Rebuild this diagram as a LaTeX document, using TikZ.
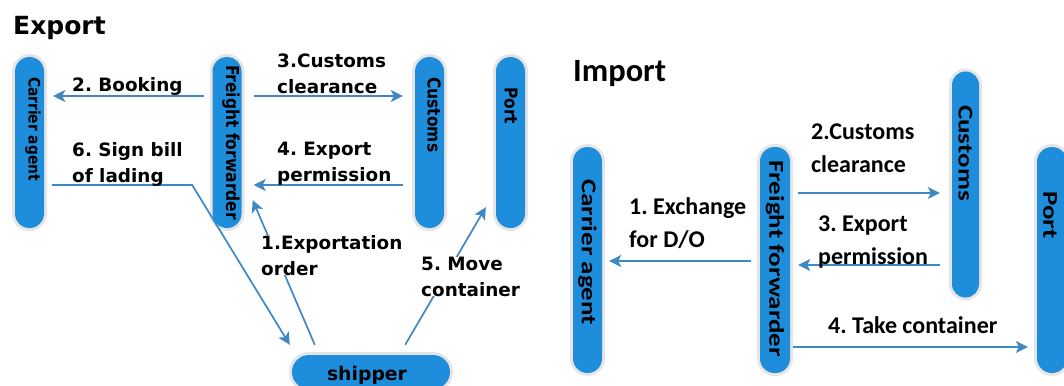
\documentclass[tikz,border=0pt]{standalone}
\usepackage{fontspec}
\usepackage{graphicx}
\newfontfamily\dvs{DejaVu Sans}
\newfontfamily\carl{Carlito}
\usetikzlibrary{arrows.meta,calc}
\definecolor{pillblue}{RGB}{30,141,220}
\definecolor{arrblue}{RGB}{62,136,196}
\frenchspacing
\begin{document}
\begin{tikzpicture}[x=1pt,y=-1pt,
  pill/.style={fill=pillblue, draw=none, inner sep=0pt, rounded corners=14.5pt,
    preaction={draw=black!10, line width=6pt}},
  vpillE/.style={pill, minimum width=29pt, minimum height=171pt},
  vpillI/.style={pill, minimum width=29pt, minimum height=226pt},
  ptextE/.style={rotate=-90, anchor=west, inner sep=0pt, font=\dvs\bfseries\fontsize{15.5}{18}\selectfont},
  ptextI/.style={rotate=-90, anchor=west, inner sep=0pt, font=\carl\bfseries\fontsize{27}{30}\selectfont},
  labE/.style={anchor=base west, align=left, inner sep=0pt, font=\frenchspacing\dvs\bfseries\fontsize{18.4}{26}\selectfont},
  labI/.style={anchor=base west, align=left, inner sep=0pt, font=\frenchspacing\carl\bfseries\fontsize{24}{33}\selectfont},
  arr/.style={draw=arrblue, line width=1.7pt, -{Stealth[length=12pt,width=12pt,inset=3pt]}}
]
\useasboundingbox (0,0) rectangle (1064,385);

% titles
\node[anchor=base west, inner sep=0pt, font=\dvs\bfseries\fontsize{25}{28}\selectfont] (titE) at (13,35) {Export};
\node[anchor=base west, inner sep=0pt, font=\carl\bfseries\fontsize{32.5}{36}\selectfont] (titI) at (573,82) {Import};

% export pills
\node[vpillE] (caE) at (29.5,142.5) {};
\node[vpillE] (ffE) at (227,142.5) {};
\node[vpillE] (cuE) at (429.5,142.5) {};
\node[vpillE] (poE) at (510.5,142.5) {};
\node[pill, rounded corners=17pt, minimum width=158pt, minimum height=34pt] (shipE) at (371,372) {};

\node[ptextE, font=\dvs\bfseries\fontsize{13.8}{16}\selectfont] (caEt) at (33,77) {\scalebox{1}[1.15]{Carrier agent}};
\node[ptextE] (ffEt) at (231,65) {\scalebox{1}[1.15]{Freight forwarder}};
\node[ptextE] (cuEt) at (434,77) {\scalebox{1}[1.15]{Customs}};
\node[ptextE] (poEt) at (511,87) {\scalebox{1}[1.15]{Port}};
\node[anchor=base, inner sep=0pt, font=\dvs\bfseries\fontsize{18.8}{20}\selectfont] (shipT) at (367,380) {shipper};

% import pills
\node[vpillI] (caI) at (587.5,260) {};
\node[vpillI, minimum width=30pt] (ffI) at (775,260) {};
\node[vpillI, minimum width=27pt, rounded corners=13.5pt] (cuI) at (965.5,184.5) {};
\node[vpillI, minimum width=30pt, rounded corners=15pt] (poI) at (1052,260) {};

\node[ptextI] (caIt) at (587.5,179) {\scalebox{1}[0.78]{Carrier agent}};
\node[ptextI] (ffIt) at (775,160) {\scalebox{1}[0.78]{Freight forwarder}};
\node[ptextI] (cuIt) at (965.5,105) {\scalebox{1}[0.78]{Customs}};
\node[ptextI] (poIt) at (1050,191) {\scalebox{1}[0.78]{Port}};

% export connectors
\draw[arr] ($(ffE.west)+(-8,-46.5)$) -- ($(caE.east)+(9,-46.5)$);
\draw[arr] ($(ffE.east)+(12,-46.5)$) -- ($(cuE.west)+(-12,-46.5)$);
\draw[arr] ($(cuE.west)+(-12,42.5)$) -- ($(ffE.east)+(12,42.5)$);
\draw[arr] ($(caE.east)+(8,42.5)$) -- ($(caE.east)+(148,42.5)$) -- ($(shipE.north west)+(-2,-10)$);
\draw[arr] ($(shipE.north west)+(23,-10)$) -- ($(ffE.south east)+(11,-28)$);
\draw[arr] ($(shipE.north east)+(-45,-10)$) -- ($(poE.south west)+(-10,-21)$);

% export labels (anchor = baseline of last line)
\node[labE] (l2E) at (72,92) {2. Booking};
\node[labE] (l3E) at (277,94) {3.Customs\\clearance};
\node[labE] (l6E) at (72,182) {6. Sign bill\\of lading};
\node[labE] (l4E) at (277,181) {4. Export\\permission};
\node[labE, fill=white] (l1E) at (261,275) {1.Exportation\\order};
\node[labE, fill=white] (l5E) at (421,296) {5. Move\\container};

% import connectors
\draw[arr] ($(ffI.west)+(-9,1)$) -- ($(caI.east)+(7,1)$);
\draw[arr] ($(ffI.east)+(8,-67)$) -- ($(cuI.west)+(-12,8.5)$);
\draw[arr] ($(cuI.west)+(-12,80.5)$) -- ($(ffI.east)+(8,5)$);
\draw[arr] ($(ffI.east)+(3,87)$) -- ($(poI.west)+(-9,87)$);

% import labels
\node[labI] (l1I) at (629,247) {1. Exchange\\for D/O};
\node[labI] (l2I) at (811,172) {2.Customs\\clearance};
\node[labI] (l3I) at (818,264) {3. Export\\permission};
\node[labI] (l4I) at (828,333) {4. Take container};
\end{tikzpicture}
\end{document}
